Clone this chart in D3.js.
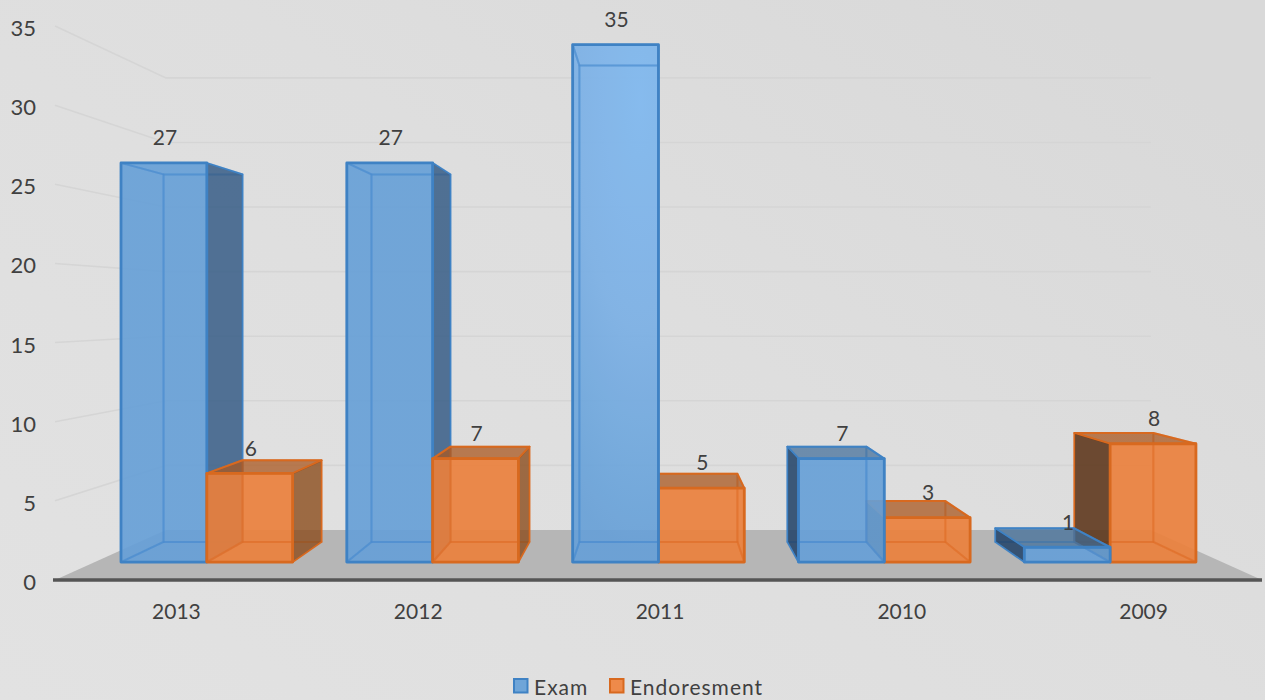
<!DOCTYPE html>
<html>
<head>
<meta charset="utf-8">
<script src="https://cdn.jsdelivr.net/npm/d3@7/dist/d3.min.js"></script>
<style>
html,body{margin:0;padding:0;background:#dedede;overflow:hidden}
svg{display:block}
text{font-family:Lato,"Open Sans",sans-serif;fill:#404040}
</style>
</head>
<body>
<svg id="chart" width="1265" height="700"></svg>
<script>
// Chart values
const years = ["2013", "2012", "2011", "2010", "2009"];
const exam = [27, 27, 35, 7, 1];
const endorsement = [6, 7, 5, 3, 8];
const seriesNames = ["Exam", "Endoresment"];
const yTicks = [0, 5, 10, 15, 20, 25, 30, 35];

const svg = d3.select("#chart");
const W = 1265, H = 700;

// Front plane scales of the 3D box
const x0 = d3.scaleBand().domain(years).range([54, 1263]).paddingInner(0.24).paddingOuter(0.12);
const x1 = d3.scaleBand().domain(seriesNames).range([0, x0.bandwidth()]);
const y = d3.scaleLinear().domain([0, 35]).range([580, 26]);

// Perspective: depth 0 is the front of the floor, depth 1 the back wall
const vanishX = 658, vanishY = 308;
const shrink = d3.scaleLinear().domain([0, 1]).range([1, 0.816]);
const project = (px, v, depth) => {
  const s = shrink(depth);
  return [vanishX + (px - vanishX) * s, vanishY + (y(v) - vanishY) * s];
};
const barFront = 0.359, barBack = 0.761;
const poly = d3.line().curve(d3.curveLinearClosed);

// Page background
const defs = svg.append("defs");
const bg = defs.append("linearGradient").attr("id", "bg").attr("x1", 0).attr("y1", 1).attr("x2", 1).attr("y2", 0.2);
bg.append("stop").attr("offset", 0).attr("stop-color", "#e2e2e2");
bg.append("stop").attr("offset", 0.6).attr("stop-color", "#dedede");
bg.append("stop").attr("offset", 1).attr("stop-color", "#d9d9d9");
svg.append("rect").attr("width", W).attr("height", H).attr("fill", "url(#bg)");

// Light falling on the tallest blue column, fading out toward the floor
const glow = defs.append("radialGradient").attr("id", "examFront")
  .attr("gradientUnits", "userSpaceOnUse").attr("cx", 0).attr("cy", 0).attr("r", 450)
  .attr("gradientTransform", "translate(640,100) scale(0.3,1)");
glow.append("stop").attr("offset", 0).attr("stop-color", "#86bdf3").attr("stop-opacity", 0.94);
glow.append("stop").attr("offset", 0.5).attr("stop-color", "#7fb4e8").attr("stop-opacity", 0.92);
glow.append("stop").attr("offset", 1).attr("stop-color", "#68a2da").attr("stop-opacity", 0.9);

// Wall gridlines
const grid = svg.append("g").attr("fill", "none").attr("stroke", "#d5d5d5").attr("stroke-width", 1.6);
const gridLine = d3.line();
grid.selectAll("path").data(yTicks.filter(t => t > 0)).join("path")
  .attr("d", t => {
    const a = project(55, t, 0), b = project(55, t, 1), c = project(1262, t, 1);
    return gridLine([a, b, c]);
  });

// Floor
svg.append("path")
  .attr("d", poly([project(55, 0, 0), project(55, 0, 1), project(1262, 0, 1), project(1262, 0, 0)]))
  .attr("fill", "#b6b6b6");
svg.append("line").attr("x1", 53).attr("x2", 1262).attr("y1", y(0)).attr("y2", y(0))
  .attr("stroke", "#555").attr("stroke-width", 3.4);

// Series palette for each kind of face
const palette = {
  Exam: {
    front: "url(#examFront)", swatch: "#6fa5d8", edge: "#3f82c4", inner: "rgba(72,138,208,0.42)",
    tint: "rgba(60,110,170,0.05)", right: "rgba(54,92,134,0.84)", left: "rgba(34,66,104,0.86)", top: "rgba(62,108,152,0.7)"
  },
  Endoresment: {
    front: "rgba(240,130,60,0.9)", swatch: "#ee8a4a", edge: "#d8691f", inner: "rgba(224,108,36,0.38)",
    tint: "rgba(170,90,30,0.05)", right: "rgba(140,78,30,0.8)", left: "rgba(92,54,26,0.88)", top: "rgba(170,88,32,0.74)"
  }
};

function drawBar(g, name, year, value) {
  const a = x0(year) + x1(name), b = a + x1.bandwidth();
  const c = palette[name];
  const corner = (px, v, d) => project(px, v, d ? barBack : barFront);
  const bottom = [corner(a, 0, 0), corner(b, 0, 0), corner(b, 0, 1), corner(a, 0, 1)];
  const back = [corner(a, 0, 1), corner(b, 0, 1), corner(b, value, 1), corner(a, value, 1)];
  const top = [corner(a, value, 0), corner(b, value, 0), corner(b, value, 1), corner(a, value, 1)];
  const leftSide = [corner(a, 0, 0), corner(a, value, 0), corner(a, value, 1), corner(a, 0, 1)];
  const rightSide = [corner(b, 0, 0), corner(b, value, 0), corner(b, value, 1), corner(b, 0, 1)];
  const front = [corner(a, 0, 0), corner(b, 0, 0), corner(b, value, 0), corner(a, value, 0)];

  const showRight = b < vanishX - 1, showLeft = a > vanishX + 1;
  const showTop = y(value) > vanishY;

  const face = (pts, fill, stroke, sw) => g.append("path").attr("d", poly(pts))
    .attr("fill", fill).attr("stroke", stroke).attr("stroke-width", sw).attr("stroke-linejoin", "round");

  // Front panel first, with the far panels tinted through it
  face(front, c.front, "none", 0);
  face(bottom, c.tint, c.inner, 2);
  face(back, c.tint, c.inner, 2);
  if (!showLeft) face(leftSide, c.tint, c.inner, 2);
  if (!showRight) face(rightSide, c.tint, c.inner, 2);
  if (!showTop) face(top, c.tint, c.inner, 2);

  // Outer panels that face the viewer
  if (showTop) face(top, c.top, c.edge, 2);
  if (showRight) face(rightSide, c.right, c.edge, 1.6);
  if (showLeft) face(leftSide, c.left, c.edge, 1.6);
  face(front, "none", c.edge, 2.8);
}

const bars = svg.append("g");
years.forEach((year, i) => {
  const pair = [["Exam", exam[i]], ["Endoresment", endorsement[i]]];
  // Panels nearer the vanishing point are painted first
  const order = x0(year) + x0.bandwidth() / 2 <= vanishX ? pair : pair.slice().reverse();
  order.forEach(([name, value]) => drawBar(bars.append("g"), name, year, value));
});

// Value labels sit just above the front of each bar
const labels = svg.append("g").attr("text-anchor", "middle").attr("font-size", 21);
years.forEach((year, i) => {
  [["Exam", exam[i]], ["Endoresment", endorsement[i]]].forEach(([name, value]) => {
    const a = x0(year) + x1(name);
    const p = project(a + x1.bandwidth() / 2, value, barFront);
    labels.append("text").attr("x", p[0] + 1).attr("y", p[1] - 25).attr("dy", "0.35em").text(value);
  });
});

// Axes
const yAxis = svg.append("g").attr("transform", "translate(36,2.5)")
  .call(d3.axisLeft(y).tickValues(yTicks).tickSize(0).tickPadding(0));
yAxis.select(".domain").remove();
yAxis.selectAll("text").attr("font-size", 22).style("font-family", "Lato,'Open Sans',sans-serif").style("fill", "#404040");

const xAxis = svg.append("g").attr("transform", "translate(1.5,612)")
  .call(d3.axisBottom(x0).tickSize(0).tickPadding(0));
xAxis.select(".domain").remove();
xAxis.selectAll("text").attr("dy", "0.35em").attr("font-size", 21).style("font-family", "Lato,'Open Sans',sans-serif").style("fill", "#404040");

// Legend
const legendX = d3.scaleOrdinal().domain(seriesNames).range([513, 609]);
const legend = svg.append("g").selectAll("g").data(seriesNames).join("g")
  .attr("transform", d => `translate(${legendX(d)},678)`);
legend.append("rect").attr("x", 1).attr("y", 1).attr("width", 13.5).attr("height", 13.5)
  .attr("fill", d => palette[d].swatch).attr("stroke", d => palette[d].edge).attr("stroke-width", 2);
legend.append("text").attr("x", 21).attr("y", 10).attr("dy", "0.35em")
  .attr("font-size", 21).attr("letter-spacing", 1).text(d => d);
</script>
</body>
</html>
